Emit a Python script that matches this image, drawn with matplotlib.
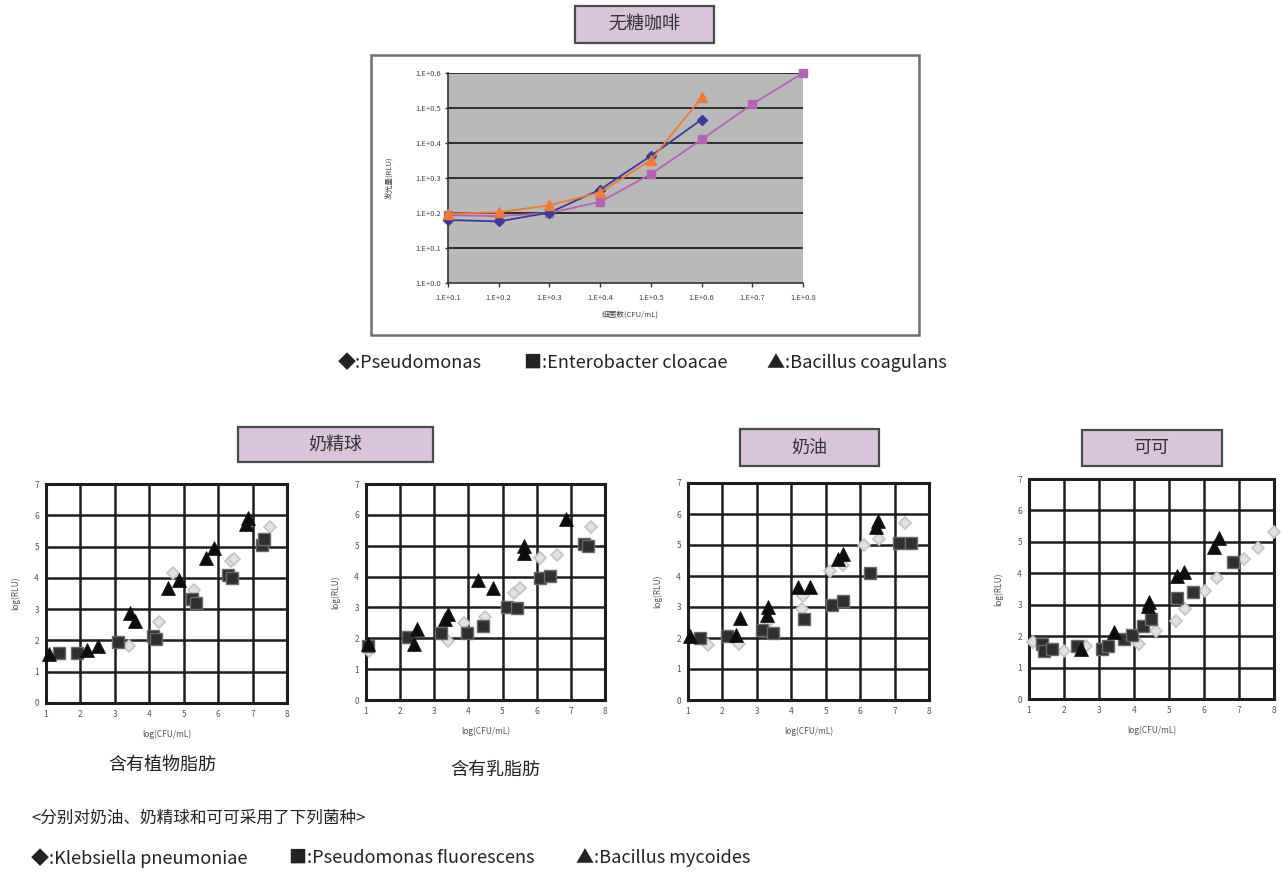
import matplotlib
matplotlib.use("Agg")
import matplotlib.pyplot as plt
from matplotlib.patches import Rectangle

plt.rcParams['font.family'] = ['Noto Sans CJK SC', 'DejaVu Sans']

W, H = 1284, 872

# ---------------- top chart data (无糖咖啡) ----------------
top_x = [0.1, 0.2, 0.3, 0.4, 0.5, 0.6, 0.7, 0.8]
top_xlabels = ["1.E+0.1", "1.E+0.2", "1.E+0.3", "1.E+0.4", "1.E+0.5", "1.E+0.6", "1.E+0.7", "1.E+0.8"]
top_yticks = [0.0, 0.1, 0.2, 0.3, 0.4, 0.5, 0.6]
top_ylabels = ["1.E+0.0", "1.E+0.1", "1.E+0.2", "1.E+0.3", "1.E+0.4", "1.E+0.5", "1.E+0.6"]
pseudomonas = [0.180, 0.176, 0.201, 0.267, 0.363, 0.467]
enterobacter = [0.194, 0.191, 0.200, 0.232, 0.311, 0.410, 0.511, 0.600]
coagulans = [0.198, 0.202, 0.222, 0.259, 0.351, 0.530]

# ---------------- bottom charts data ----------------
# 奶精球 (含有植物脂肪)
c1_tri_x = [1.10, 2.20, 2.50, 3.44, 3.58, 4.55, 4.86, 5.64, 5.88, 6.82, 6.88]
c1_tri_y = [1.58, 1.71, 1.82, 2.87, 2.62, 3.68, 3.94, 4.63, 4.95, 5.72, 5.90]
c1_sq_x = [1.37, 1.90, 3.08, 4.12, 4.19, 5.25, 5.35, 6.30, 6.41, 7.28, 7.33]
c1_sq_y = [1.61, 1.60, 1.95, 2.14, 2.05, 3.33, 3.19, 4.10, 3.99, 5.06, 5.24]
c1_dia_x = [3.42, 4.27, 4.70, 5.30, 6.36, 6.46, 7.52]
c1_dia_y = [1.82, 2.58, 4.15, 3.60, 4.55, 4.60, 5.62]

# 奶精球 (含有乳脂肪)
c2_tri_x = [1.05, 2.40, 2.50, 3.31, 3.39, 4.29, 4.71, 5.62, 5.64, 6.85]
c2_tri_y = [1.80, 1.83, 2.30, 2.63, 2.80, 3.90, 3.63, 4.76, 5.00, 5.86]
c2_sq_x = [1.05, 2.23, 3.19, 3.95, 4.42, 5.13, 5.41, 6.11, 6.39, 7.39, 7.49]
c2_sq_y = [1.74, 2.03, 2.17, 2.17, 2.39, 3.01, 2.98, 3.95, 4.03, 5.06, 5.00]
c2_dia_x = [1.08, 3.41, 3.87, 4.49, 5.33, 5.50, 6.11, 6.60, 7.59]
c2_dia_y = [1.58, 1.90, 2.48, 2.68, 3.47, 3.63, 4.60, 4.70, 5.60]

# 奶油
c3_tri_x = [1.07, 2.38, 2.50, 3.30, 3.33, 4.20, 4.54, 5.35, 5.50, 6.47, 6.53]
c3_tri_y = [2.08, 2.10, 2.64, 2.73, 2.99, 3.64, 3.66, 4.55, 4.70, 5.58, 5.78]
c3_sq_x = [1.36, 2.14, 3.14, 3.48, 4.37, 5.17, 5.49, 6.29, 7.12, 7.48]
c3_sq_y = [2.00, 2.06, 2.27, 2.16, 2.62, 3.05, 3.18, 4.09, 5.08, 5.05]
c3_dia_x = [1.58, 2.48, 3.33, 4.30, 4.35, 5.13, 5.49, 6.10, 6.55, 7.31]
c3_dia_y = [1.76, 1.82, 2.51, 2.94, 3.34, 4.17, 4.36, 5.00, 5.19, 5.72]

# 可可
c4_tri_x = [2.48, 3.44, 4.40, 4.44, 5.23, 5.43, 6.29, 6.42]
c4_tri_y = [1.59, 2.12, 2.95, 3.10, 3.92, 4.05, 4.83, 5.11]
c4_sq_x = [1.38, 1.43, 1.67, 2.36, 3.09, 3.25, 3.70, 3.94, 4.27, 4.49, 5.24, 5.69, 6.82]
c4_sq_y = [1.75, 1.52, 1.59, 1.68, 1.59, 1.68, 1.91, 2.04, 2.33, 2.55, 3.21, 3.41, 4.35]
c4_dia_x = [1.10, 2.00, 2.63, 4.14, 4.62, 5.19, 5.45, 6.02, 6.36, 7.15, 7.54, 7.99]
c4_dia_y = [1.80, 1.54, 1.70, 1.75, 2.15, 2.49, 2.86, 3.45, 3.84, 4.45, 4.82, 5.30]

bottom_xticks = [1, 2, 3, 4, 5, 6, 7, 8]
bottom_yticks = [0, 1, 2, 3, 4, 5, 6, 7]

fig = plt.figure(figsize=(W / 100, H / 100), dpi=100)
fig.patch.set_facecolor("white")


def rect_px(x0, y0, x1, y1):
    return [x0 / W, 1 - y1 / H, (x1 - x0) / W, (y1 - y0) / H]


def fx(x):
    return x / W


def fy(y):
    return 1 - y / H


def box(x0, y0, x1, y1, fc="none", ec="#555555", lw=1.5, z=1):
    fig.add_artist(Rectangle((x0 / W, 1 - y1 / H), (x1 - x0) / W, (y1 - y0) / H,
                             transform=fig.transFigure, facecolor=fc, edgecolor=ec, lw=lw,
                             zorder=z))


def title_box(x0, y0, x1, y1, text):
    box(x0, y0, x1, y1, fc="#D9C4DC", ec="#4a4a4a", lw=1.6)
    fig.text(fx((x0 + x1) / 2), fy((y0 + y1) / 2), text, ha="center", va="center",
             fontsize=13, color="#333333", zorder=3)


# ---------------- top chart ----------------
box(371, 55, 919, 335, fc="none", ec="#6e6e6e", lw=1.8)
title_box(575, 6, 714, 43, "无糖咖啡")

ax = fig.add_axes(rect_px(448, 73, 803, 283))
ax.set_facecolor("#B9B9B9")
ax.set_xlim(0.1, 0.8)
ax.set_ylim(0.0, 0.6)
for yv in top_yticks[1:]:
    ax.axhline(yv, color="#2e2e2e", lw=1.4, zorder=1)
ax.plot(top_x[:len(pseudomonas)], pseudomonas, color="#3A3A9E", marker="D", ms=5, lw=1.3,
        clip_on=False, zorder=4)
ax.plot(top_x[:len(enterobacter)], enterobacter, color="#B562B8", marker="s", ms=6, lw=1.3,
        clip_on=False, zorder=3)
ax.plot(top_x[:len(coagulans)], coagulans, color="#F07A30", marker="^", ms=6.5, lw=1.3,
        clip_on=False, zorder=5)
ax.set_xticks(top_x)
ax.set_xticklabels(top_xlabels, fontsize=5.5, color="#444444")
ax.set_yticks(top_yticks)
ax.set_yticklabels(top_ylabels, fontsize=5.5, color="#444444")
ax.tick_params(axis="x", length=3, width=1, color="#333333", pad=5)
ax.tick_params(axis="y", length=2, width=1, color="#333333", pad=3)
for s in ["top", "right"]:
    ax.spines[s].set_visible(False)
for s in ["left", "bottom"]:
    ax.spines[s].set_color("#333333")
    ax.spines[s].set_linewidth(1.2)
fig.text(fx(630), fy(315), "细菌数(CFU/mL)", ha="center", va="center", fontsize=5.5, color="#444444")
fig.text(fx(390), fy(178), "发光量(RLU)", ha="center", va="center", fontsize=5.5, color="#444444",
         rotation=90)

# legend top
fig.text(fx(338), fy(363), "◆:Pseudomonas", ha="left", va="center", fontsize=13, color="#222222")
fig.text(fx(524), fy(363), "■:Enterobacter cloacae", ha="left", va="center", fontsize=13, color="#222222")
fig.text(fx(767), fy(363), "▲:Bacillus coagulans", ha="left", va="center", fontsize=13, color="#222222")

# ---------------- bottom charts ----------------
title_box(238, 427, 433, 462, "奶精球")
title_box(740, 429, 879, 466, "奶油")
title_box(1082, 430, 1222, 466, "可可")

charts = [
    ((46, 484, 287, 703), c1_tri_x, c1_tri_y, c1_sq_x, c1_sq_y, c1_dia_x, c1_dia_y),
    ((366, 484, 605, 700), c2_tri_x, c2_tri_y, c2_sq_x, c2_sq_y, c2_dia_x, c2_dia_y),
    ((688, 483, 929, 700), c3_tri_x, c3_tri_y, c3_sq_x, c3_sq_y, c3_dia_x, c3_dia_y),
    ((1029, 479, 1274, 699), c4_tri_x, c4_tri_y, c4_sq_x, c4_sq_y, c4_dia_x, c4_dia_y),
]

for (x0, y0, x1, y1), tx, ty, sx, sy, dx, dy in charts:
    a = fig.add_axes(rect_px(x0, y0, x1, y1))
    a.set_xlim(1, 8)
    a.set_ylim(0, 7)
    a.set_xticks(bottom_xticks)
    a.set_yticks(bottom_yticks)
    a.set_xticklabels([str(v) for v in bottom_xticks], fontsize=6, color="#555555")
    a.set_yticklabels([str(v) for v in bottom_yticks], fontsize=6, color="#555555")
    a.tick_params(length=0, pad=5)
    a.grid(True, color="#1e1e1e", lw=1.8)
    a.set_axisbelow(True)
    for s in a.spines.values():
        s.set_linewidth(2.2)
        s.set_color("#1e1e1e")
    a.plot(dx, dy, linestyle="none", marker="D", ms=6.5, mfc="#E2E2E2", mec="#C4C4C4", mew=1.2,
           clip_on=False, zorder=3)
    a.plot(sx, sy, linestyle="none", marker="s", ms=8.5, mfc="#2f2f2f", mec="#6a6a6a", mew=1.0,
           clip_on=False, zorder=4)
    a.plot(tx, ty, linestyle="none", marker="^", ms=9.5, mfc="#0d0d0d", mec="#0d0d0d", mew=0.5,
           clip_on=False, zorder=5)
    a.set_xlabel("log(CFU/mL)", fontsize=6, color="#555555", labelpad=8)
    a.set_ylabel("log(RLU)", fontsize=6, color="#555555", labelpad=10)

# captions
fig.text(fx(162), fy(765), "含有植物脂肪", ha="center", va="center", fontsize=13, color="#222222")
fig.text(fx(495), fy(770), "含有乳脂肪", ha="center", va="center", fontsize=13, color="#222222")
fig.text(fx(31), fy(818), "<分别对奶油、奶精球和可可采用了下列菌种>", ha="left", va="center",
         fontsize=12, color="#222222")
fig.text(fx(31), fy(858), "◆:Klebsiella pneumoniae", ha="left", va="center", fontsize=13, color="#222222")
fig.text(fx(289), fy(858), "■:Pseudomonas fluorescens", ha="left", va="center", fontsize=13, color="#222222")
fig.text(fx(576), fy(858), "▲:Bacillus mycoides", ha="left", va="center", fontsize=13, color="#222222")

fig.savefig("out.png", dpi=100, facecolor="white")
